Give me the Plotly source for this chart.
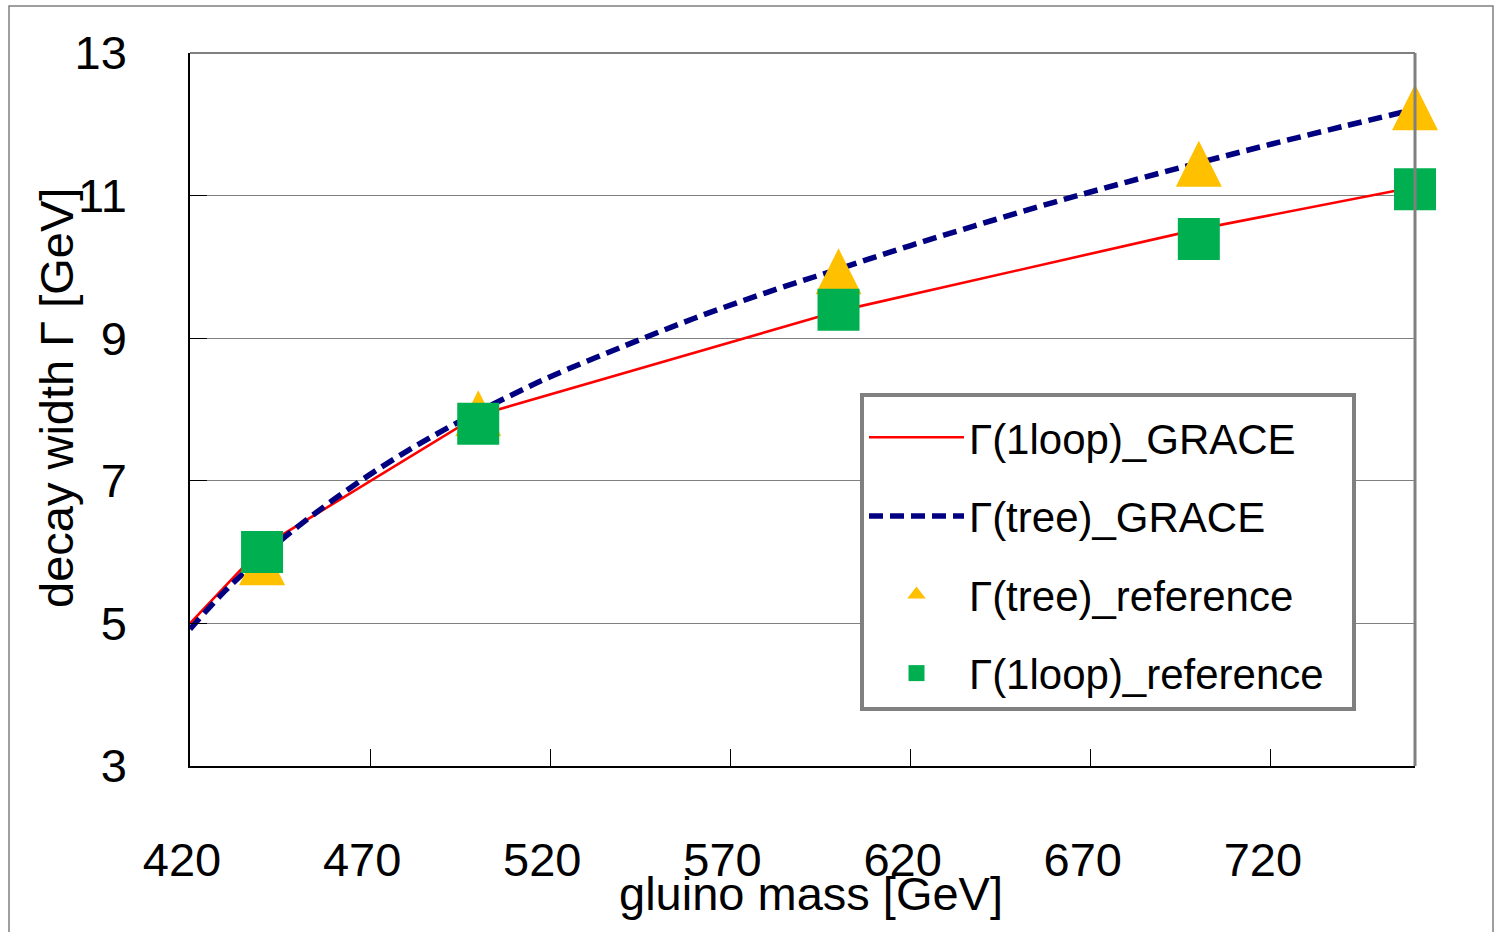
import plotly.graph_objects as go

# ---- data ----
loop_grace_x = [420, 440, 500, 600, 700, 760]
loop_grace_y = [5.00, 6.07, 7.92, 9.38, 10.53, 11.12]

tree_grace_x = [420, 430, 440, 450, 460, 470, 480, 490, 500, 510, 520, 540, 560,
                580, 600, 620, 640, 660, 680, 700, 720, 740, 760]
tree_grace_y = [4.92, 5.47, 5.94, 6.36, 6.74, 7.09, 7.41, 7.70, 7.97, 8.22, 8.46,
                8.88, 9.28, 9.64, 9.97, 10.30, 10.61, 10.91, 11.19, 11.46, 11.72,
                11.97, 12.21]

ref_x = [440, 500, 600, 700, 760]
tree_ref_y = [5.90, 7.99, 9.98, 11.49, 12.28]
loop_ref_y = [6.00, 7.80, 9.40, 10.39, 11.09]

x_ticks = [420, 470, 520, 570, 620, 670, 720]
y_ticks = [3, 5, 7, 9, 11, 13]

FONT = "Liberation Sans, Arial, sans-serif"
NB = "\u00a0"

fig = go.Figure()
fig.add_trace(go.Scatter(x=loop_grace_x, y=loop_grace_y, mode="lines",
                         name="Γ(1loop)_GRACE", legendgroup="a",
                         line=dict(color="#FF0000", width=2.6)))
fig.add_trace(go.Scatter(x=tree_grace_x, y=tree_grace_y, mode="lines",
                         name="Γ(tree)_GRACE", legendgroup="b",
                         line=dict(color="#000080", width=5.5, dash="14px,7px", shape="spline")))
# triangles drawn as a centred upward triangle (arrow symbol rotated, pushed back by half its height)
fig.add_trace(go.Scatter(x=ref_x, y=tree_ref_y, mode="markers", cliponaxis=False,
                         name="Γ(tree)_reference", legendgroup="c", showlegend=False,
                         marker=dict(symbol="arrow-down", angle=180, size=46, standoff=20,
                                     color="#FFC000", line=dict(width=0))))
# legend entry for the triangles
fig.add_trace(go.Scatter(x=[None], y=[None], mode="markers",
                         name="Γ(tree)_reference", legendgroup="c2",
                         marker=dict(symbol="triangle-up", size=16,
                                     color="#FFC000", line=dict(width=0))))
fig.add_trace(go.Scatter(x=ref_x, y=loop_ref_y, mode="markers", cliponaxis=False,
                         name="Γ(1loop)_reference" + NB * 2, legendgroup="d",
                         marker=dict(symbol="square", size=42, color="#00B050",
                                     line=dict(width=0))))

L, R, T, B = 190, 80, 53, 166
W, H = 1495, 932
pw, ph = W - L - R, H - T - B

fig.update_layout(
    width=W, height=H,
    margin=dict(l=L, r=R, t=T, b=B),
    paper_bgcolor="white", plot_bgcolor="white",
    font=dict(family=FONT, color="black", size=47),
    showlegend=True,
    legend=dict(x=(860 - L) / pw, y=(766 - 393) / ph, xanchor="left", yanchor="top",
                bgcolor="white", bordercolor="#808080", borderwidth=4,
                font=dict(size=42, family=FONT), tracegroupgap=21,
                itemwidth=95,
                title=dict(text=NB, font=dict(size=5))),
    xaxis=dict(range=[420, 760], tickvals=x_ticks, ticks="inside", ticklen=17,
               tickcolor="black", tickwidth=1, showline=True, linecolor="black",
               linewidth=1.5, mirror=False, showgrid=False, zeroline=False,
               tickfont=dict(size=47), ticklabelstandoff=52, ticklabelshift=-8),
    yaxis=dict(range=[3, 13], tickvals=y_ticks, ticks="inside", ticklen=17,
               tickcolor="black", tickwidth=1, showline=True, linecolor="black",
               linewidth=1.5, showgrid=True, gridcolor="#808080", gridwidth=1.3,
               zeroline=False, tickfont=dict(size=47), ticklabelstandoff=52),
)

# plot-area frame (top/right in gray) and outer border
fig.add_shape(type="line", xref="paper", yref="paper", x0=1, x1=1, y0=0, y1=1,
              line=dict(color="#808080", width=3))
fig.add_shape(type="line", xref="paper", yref="paper", x0=0, x1=1, y0=1, y1=1,
              line=dict(color="#808080", width=2))
fig.add_shape(type="rect", xref="paper", yref="paper",
              x0=(9 - L) / pw, x1=(1493 - L) / pw, y0=(766 - 940) / ph, y1=(766 - 6) / ph,
              line=dict(color="#808080", width=1.5), layer="below")

fig.add_annotation(text="gluino mass [GeV]", xref="paper", yref="paper",
                   x=(811 - L) / pw, y=(766 - 893) / ph, showarrow=False,
                   xanchor="center", yanchor="middle", font=dict(size=47))
fig.add_annotation(text="decay width Γ [GeV]", xref="paper", yref="paper",
                   x=(56 - L) / pw, y=(766 - 398) / ph, showarrow=False, textangle=-90,
                   xanchor="center", yanchor="middle", font=dict(size=47))

fig.write_html("out.html", config={"displayModeBar": False},
               post_script="document.body.style.margin='0px';")
